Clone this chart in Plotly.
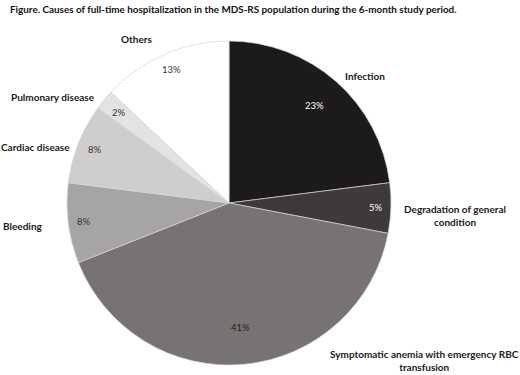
import math
import plotly.graph_objects as go

# ---- data ----
categories = ["Infection", "Degradation of general condition",
              "Symptomatic anemia with emergency RBC transfusion",
              "Bleeding", "Cardiac disease", "Pulmonary disease", "Others"]
values = [23, 5, 41, 8, 8, 2, 13]
title_text = "Figure. Causes of full-time hospitalization in the MDS-RS population during the 6-month study period."

# ---- style ----
colors = ["#1c1a1b", "#3f3a3a", "#787373", "#a7a4a4", "#d0cdcd", "#e3e3e3", "#ffffff"]
pct_colors = ["#ffffff", "#ffffff", "#222222", "#333333", "#333333", "#333333", "#333333"]
pct_radius = [0.80, 0.91, 0.77, 0.90, 0.89, 0.88, 0.90]
label_text = ["Infection", "Degradation of general<br>condition",
              "Symptomatic anemia with emergency RBC<br>transfusion",
              "Bleeding", "Cardiac disease", "Pulmonary disease", "Others"]
label_pos = [(365, 76), (455, 216), (424, 360), (23, 226), (35, 147), (53, 97), (136, 39)]

W, H = 520, 375
cx, cy, R = 229, 203, 162
FONT = "Lato"

fig = go.Figure(go.Pie(
    labels=categories, values=values, sort=False, direction="clockwise",
    rotation=0, textinfo="none", hoverinfo="label+percent",
    marker=dict(colors=colors, line=dict(color="#d6d6d6", width=0.7)),
    domain=dict(x=[(cx - R) / W, (cx + R) / W], y=[1 - (cy + R) / H, 1 - (cy - R) / H]),
    showlegend=False,
))

ann = []
total = sum(values)
cum = 0
for v, c, rf in zip(values, pct_colors, pct_radius):
    mid = (cum + v / 2) / total * 2 * math.pi
    cum += v
    px = cx + rf * R * math.sin(mid)
    py = cy - rf * R * math.cos(mid)
    ann.append(dict(x=px / W, y=1 - py / H, xref="paper", yref="paper",
                    xanchor="center", yanchor="middle",
                    text=f"{round(v / total * 100)}%", showarrow=False,
                    font=dict(family=FONT, size=9.5, color=c)))

for t, (px, py) in zip(label_text, label_pos):
    ann.append(dict(x=px / W, y=1 - py / H, xref="paper", yref="paper", text=f"<b>{t}</b>",
                    xanchor="center", yanchor="middle",
                    showarrow=False, align="center",
                    font=dict(family=FONT, size=10, color="#1a1a1a")))

ann.append(dict(x=8 / W, y=1 - 9 / H, xref="paper", yref="paper", xanchor="left",
                yanchor="middle",
                text=f"<b>{title_text}</b>", showarrow=False,
                font=dict(family=FONT, size=9.9, color="#111111")))

fig.update_layout(width=W, height=H, margin=dict(l=0, r=0, t=0, b=0),
                  paper_bgcolor="white", plot_bgcolor="white", annotations=ann)
fig.write_html("out.html", config={"displayModeBar": False},
               post_script="document.body.style.margin='0';")
